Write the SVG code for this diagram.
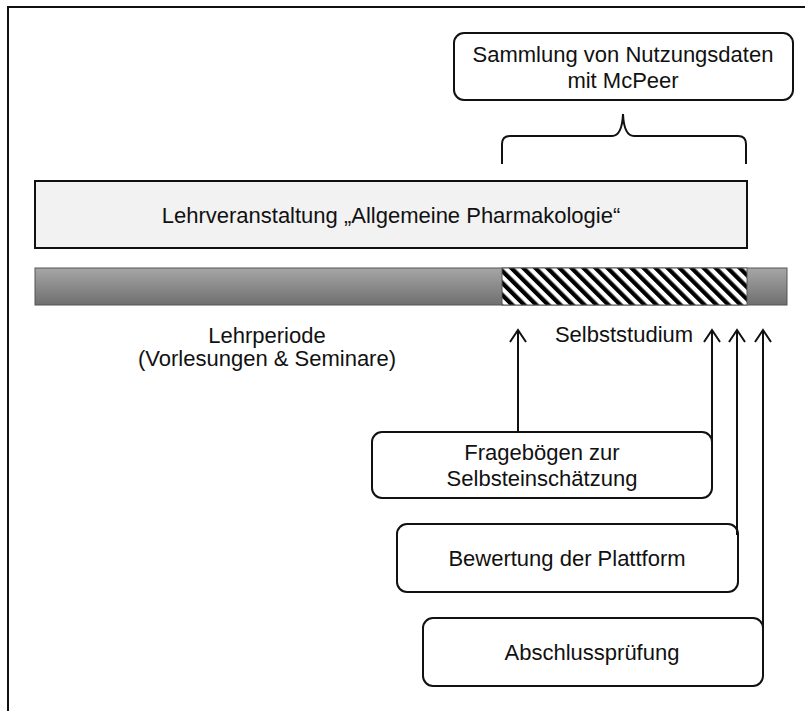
<svg xmlns="http://www.w3.org/2000/svg" width="805" height="711" viewBox="0 0 805 711">
<style>
text{font-family:"Liberation Sans",Arial,sans-serif;font-size:22px;fill:#111;text-anchor:middle}
.box{fill:#fff;stroke:#111;stroke-width:2}
.conn{fill:none;stroke:#111;stroke-width:2}
</style>
<defs>
<linearGradient id="gbar" x1="0" y1="0" x2="0" y2="1">
<stop offset="0" stop-color="#a6a6a6"/>
<stop offset="1" stop-color="#6f6f6f"/>
</linearGradient>
<pattern id="hatch" patternUnits="userSpaceOnUse" width="8.5" height="8.5" patternTransform="rotate(-45)">
<rect x="0" y="0" width="8.5" height="8.5" fill="#fff"/>
<rect x="0" y="0" width="4.25" height="8.5" fill="#000"/>
</pattern>
<marker id="arr" viewBox="0 0 20 20" refX="17" refY="10" markerWidth="20" markerHeight="20" markerUnits="userSpaceOnUse" orient="auto">
<path d="M5,2 L17,10 L5,18" fill="none" stroke="#111" stroke-width="2"/>
</marker>
</defs>
<rect width="805" height="711" fill="#fff"/>
<path d="M8,711 V7 H805" fill="none" stroke="#111" stroke-width="2"/>

<g id="sammlung">
<rect class="box" x="454" y="33" width="339" height="67" rx="10"/>
<text x="623" y="62">Sammlung von Nutzungsdaten</text>
<text x="623" y="88">mit McPeer</text>
</g>

<g id="klammer">
<path class="conn" d="M502,164 V144 Q502,136 510,136 H612 Q622,136 623,114 Q624,136 634,136 H738 Q746,136 746,144 V164"/>
</g>

<g id="lehrveranstaltung">
<rect x="35" y="181" width="712" height="67" fill="#f2f2f2" stroke="#111" stroke-width="2"/>
<text x="391" y="223">Lehrveranstaltung „Allgemeine Pharmakologie“</text>
</g>

<g id="zeitleiste">
<rect x="35" y="268" width="752" height="37" fill="url(#gbar)" stroke="#555" stroke-width="1"/>
<rect x="502" y="268" width="245" height="37" fill="url(#hatch)" stroke="#555" stroke-width="1"/>
</g>

<g id="lehrperiode">
<text x="267" y="343">Lehrperiode</text>
<text x="267" y="366">(Vorlesungen &amp; Seminare)</text>
</g>

<g id="selbststudium">
<text x="624" y="342">Selbststudium</text>
</g>

<g id="frageboegen">
<rect class="box" x="372" y="432" width="340" height="66" rx="10"/>
<text x="542" y="460">Fragebögen zur</text>
<text x="542" y="486">Selbsteinschätzung</text>
</g>

<g id="bewertung">
<rect class="box" x="397" y="524" width="341" height="68" rx="10"/>
<text x="567" y="566">Bewertung der Plattform</text>
</g>

<g id="abschluss">
<rect class="box" x="423" y="618" width="340" height="68" rx="10"/>
<text x="592" y="660">Abschlussprüfung</text>
</g>

<g id="connectors">
<path class="conn" d="M518,432 V330" marker-end="url(#arr)"/>
<path class="conn" d="M712,445 V330" marker-end="url(#arr)"/>
<path class="conn" d="M737,535 V330" marker-end="url(#arr)"/>
<path class="conn" d="M763,630 V330" marker-end="url(#arr)"/>
</g>
</svg>
